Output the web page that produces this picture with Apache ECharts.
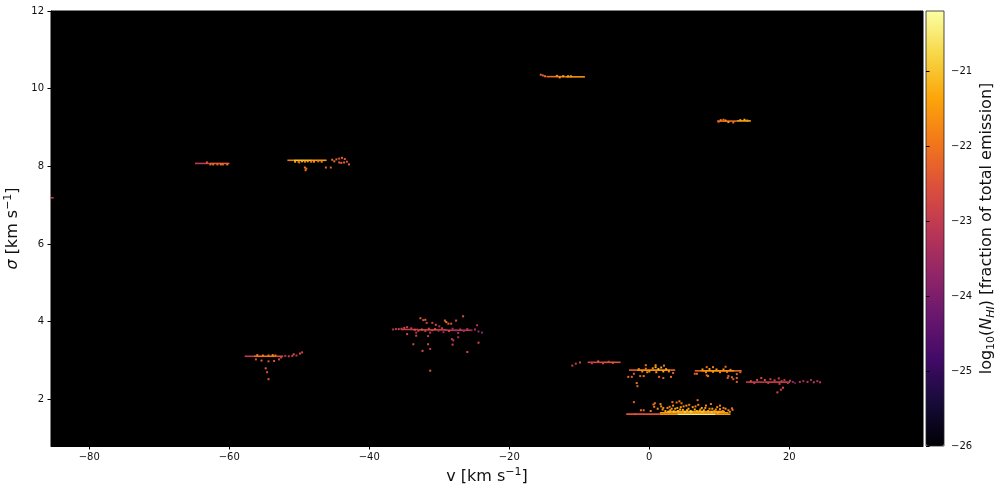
<!DOCTYPE html>
<html><head><meta charset="utf-8">
<script src="https://cdn.jsdelivr.net/npm/echarts@6/dist/echarts.min.js"></script>
<style>html,body{margin:0;padding:0;background:#fff}#c{width:1002px;height:494px}</style>
</head><body><div id="c"></div>
<script>
// axis ticks / ranges
const xTicks = [-80, -60, -40, -20, 0, 20];
const yTicks = [2, 4, 6, 8, 10, 12];
const cbTicks = [-26, -25, -24, -23, -22, -21];
const xRange = [-85.47, 39.1];
const yRange = [0.8, 12];
const cRange = [-26, -20.2];
const infernoColors = ['#000004','#160b39','#420a68','#6a176e','#932667','#bc3754','#dd513a','#f37819','#fca50a','#f6d746','#fcffa4'];

// streaks: [v_start, sigma, log10 N, v_end]
const streaks = [
  [-85.45, 7.19, -22.8, -85.1],
  [-64.9, 8.075, -23.0, -62.8], [-62.8, 8.075, -22.4, -60.0],
  [-51.7, 8.156, -21.9, -50.8], [-50.8, 8.156, -21.0, -48.2], [-48.2, 8.156, -21.5, -46.1],
  [-14.7, 10.31, -22.1, -12.0], [-12.0, 10.305, -21.6, -9.2],
  [9.7, 9.165, -22.1, 12.5], [12.5, 9.17, -21.3, 14.5],
  [-35.5, 3.80, -23.0, -33.0], [-33.0, 3.79, -22.8, -29.0], [-29.0, 3.78, -23.1, -25.5],
  [-57.8, 3.11, -23.0, -56.5], [-56.5, 3.11, -22.0, -53.3], [-53.3, 3.11, -22.6, -52.3],
  [-8.8, 2.955, -22.8, -6.5], [-6.5, 2.955, -22.5, -4.1],
  [-2.9, 2.754, -22.3, -1.8], [-1.8, 2.754, -21.7, 3.0], [3.0, 2.754, -22.1, 3.7],
  [6.5, 2.735, -22.2, 7.4], [7.4, 2.735, -21.6, 12.2], [12.2, 2.735, -22.2, 13.2],
  [13.8, 2.445, -23.0, 16.5], [16.5, 2.445, -22.8, 20.1],
  [-3.3, 1.62, -22.5, 1.5], [1.5, 1.62, -21.4, 4.0], [4.0, 1.62, -20.5, 9.5], [9.5, 1.62, -21.3, 11.6],
  [1.5, 1.655, -21.5, 11.3], [2.5, 1.69, -21.4, 10.8]
];

// individual cells: [v, sigma, log10 N]
const cellsHigh = [
  [-63.2,8.10,-22.3],[-62.7,8.05,-22.0],[-62.3,8.05,-22.1],[-61.7,8.05,-22.2],[-61.2,8.05,-22.0],[-60.9,8.05,-22.3],[-60.3,8.05,-22.0],
  [-50.6,8.12,-21.3],[-50.1,8.12,-21.6],[-49.6,8.13,-21.2],[-49.2,8.12,-21.8],[-48.8,8.13,-21.4],[-48.3,8.12,-21.9],[-47.9,8.12,-21.7],[-47.3,8.13,-22.0],[-46.8,8.12,-21.8],
  [-50.0,8.10,-22.3],[-49.2,7.97,-22.0],[-49.0,7.94,-22.2],[-49.1,7.90,-22.1],[-46.2,7.97,-22.3],[-45.5,7.97,-22.4],
  [-45.3,8.17,-22.2],[-44.7,8.18,-22.3],[-44.3,8.20,-22.5],[-43.9,8.22,-22.3],[-43.5,8.19,-22.4],[-44.0,8.09,-22.2],[-44.3,8.10,-22.4],[-43.6,8.10,-22.3],[-43.2,8.12,-22.5],[-42.9,8.05,-22.3],[-45.0,8.13,-22.1],
  [-15.5,10.36,-22.2],[-15.2,10.34,-22.3],[-14.9,10.32,-22.1],[-13.2,10.33,-21.5],[-12.3,10.32,-21.3],[-11.6,10.32,-21.4],[-11.2,10.32,-21.6],[-12.8,10.29,-21.4],
  [9.9,9.15,-22.2],[10.2,9.19,-21.8],[10.6,9.2,-22.0],[10.9,9.18,-21.6],[11.3,9.14,-21.5],[12.0,9.13,-22.0],[13.0,9.19,-21.4],[13.6,9.2,-21.2],[14.0,9.18,-21.5]
];
const cellsMid = [
  [-36.6,3.80,-23.2],[-36.2,3.81,-23.0],[-35.8,3.81,-22.8],[-35.4,3.82,-22.9],[-35.0,3.84,-22.7],[-34.6,3.86,-22.9],[-34.0,3.83,-23.0],[-33.5,3.79,-22.6],
  [-32.7,4.09,-22.4],[-32.3,4.04,-22.6],[-32.0,4.05,-22.3],[-31.8,3.97,-22.8],[-31.0,3.97,-22.9],[-30.5,3.92,-22.7],[-29.2,4.03,-22.2],[-29.0,3.99,-21.9],[-28.7,3.95,-22.3],[-28.3,3.95,-22.5],[-27.6,4.03,-22.6],[-26.6,4.14,-22.5],[-24.6,3.91,-23.2],[-30.0,3.88,-23.3],
  [-33.0,3.77,-22.7],[-32.5,3.80,-22.4],[-32.0,3.76,-23.0],[-31.5,3.82,-22.6],[-31.0,3.78,-22.9],[-30.6,3.81,-22.5],[-30.1,3.77,-23.4],[-29.6,3.83,-22.8],[-29.1,3.79,-23.1],[-28.6,3.76,-22.7],[-28.1,3.82,-23.3],[-27.6,3.78,-23.6],[-27.0,3.80,-23.0],[-26.5,3.76,-23.5],[-26.0,3.81,-23.2],[-25.4,3.78,-23.7],[-24.9,3.80,-23.3],[-24.4,3.75,-23.6],[-23.9,3.72,-23.8],[-33.3,3.72,-23.2],[-31.3,3.72,-23.0],[-29.4,3.73,-23.5],[-27.3,3.71,-23.4],
  [-34.6,3.68,-22.6],[-33.3,3.64,-22.8],[-31.6,3.63,-23.0],[-28.2,3.55,-22.9],[-28.0,3.52,-23.1],[-27.3,3.60,-23.4],[-33.7,3.42,-22.7],[-31.6,3.42,-22.6],[-32.4,3.25,-22.5],[-31.3,3.30,-23.0],[-28.1,3.41,-22.8],[-26.0,3.22,-22.7],[-24.4,3.46,-22.6],[-31.3,2.74,-22.4],
  [-56.0,3.14,-21.8],[-55.2,3.13,-21.9],[-54.4,3.13,-22.0],[-53.8,3.14,-21.7],[-53.4,3.13,-22.1],[-56.2,3.03,-22.5],[-55.4,3.00,-22.3],[-54.4,2.98,-22.6],[-53.6,2.99,-22.4],[-52.9,3.03,-22.7],[-54.8,2.80,-22.3],[-54.6,2.70,-22.5],[-54.4,2.52,-22.4],[-52.0,3.12,-23.2],[-51.5,3.11,-23.0],[-51.0,3.12,-22.9],[-50.4,3.13,-23.1],[-49.9,3.18,-22.6],[-49.6,3.21,-22.7],[-50.8,3.16,-22.5],[-52.6,3.08,-22.8],
  [-11.0,2.87,-22.9],[-10.5,2.92,-23.0],[-9.9,2.95,-22.8],[-7.3,2.98,-22.4],[-6.6,2.93,-22.6],[-5.8,2.97,-22.7],[-5.2,2.94,-22.5],[-8.2,2.93,-23.1]
];
const cellsLow = [
  [-1.5,2.78,-21.8],[-1.0,2.72,-21.6],[-0.5,2.79,-21.9],[0.0,2.72,-21.5],[0.5,2.80,-21.6],[0.9,2.83,-21.2],[1.3,2.78,-21.0],[1.7,2.82,-21.3],[2.0,2.72,-21.2],[2.4,2.78,-21.4],[2.8,2.72,-21.7],[1.0,2.70,-21.5],[-0.3,2.70,-21.8],[0.9,2.88,-21.7],[-0.5,2.88,-22.0],[2.1,2.87,-21.9],
  [-3.0,2.58,-22.1],[-2.5,2.58,-22.3],[-1.8,2.42,-22.0],[-1.7,2.34,-22.2],[-1.3,2.60,-22.3],[-0.8,2.60,-22.0],[1.4,2.58,-22.2],[2.0,2.55,-22.4],[3.1,2.58,-22.1],[-2.2,2.66,-22.4],[3.4,2.68,-22.3],
  [7.6,2.77,-21.5],[8.1,2.70,-21.7],[8.6,2.78,-21.3],[9.1,2.71,-21.6],[9.6,2.77,-21.4],[10.1,2.70,-21.8],[10.6,2.77,-21.5],[11.1,2.71,-21.9],[11.6,2.76,-21.7],[8.2,2.83,-22.0],[9.1,2.83,-21.9],[10.9,2.84,-22.1],
  [8.2,2.62,-22.2],[8.4,2.60,-22.0],[6.5,2.66,-22.3],[6.8,2.66,-22.1],[11.3,2.60,-22.3],[11.8,2.57,-22.2],[12.0,2.52,-22.4],[12.5,2.55,-22.3],[12.5,2.65,-22.2],[12.5,2.45,-22.4],[11.2,2.55,-22.5],[13.0,2.70,-22.3],
  [14.5,2.47,-22.6],[15.4,2.50,-22.8],[16.0,2.55,-22.7],[16.5,2.50,-22.5],[17.3,2.52,-22.9],[17.9,2.49,-22.7],[18.5,2.54,-22.8],[18.9,2.47,-23.0],[19.3,2.50,-23.2],[18.3,2.18,-22.6],[18.8,2.25,-22.8],[19.1,2.30,-22.7],[18.6,2.40,-22.9],[19.8,2.42,-23.3],[20.1,2.48,-23.0],[20.8,2.42,-24.3],[21.5,2.45,-23.1],[22.0,2.47,-23.4],[22.6,2.45,-23.2],[23.1,2.50,-23.5],[23.5,2.44,-23.0],[24.0,2.47,-23.3],[24.4,2.44,-23.1],[20.5,2.45,-23.6],[17.0,2.42,-23.0],[15.0,2.42,-22.9]
];
const cellsBottom = [
  [-2.2,1.93,-22.3],[-1.2,1.72,-22.1],[-0.8,1.72,-22.2],[0.6,1.87,-22.0],[0.7,1.81,-21.9],[0.8,1.90,-22.2],[1.6,1.88,-21.8],[1.7,1.82,-21.6],[1.9,1.74,-21.5],[2.3,1.70,-21.3],[2.6,1.78,-21.6],[3.0,1.72,-21.2],[3.3,1.93,-22.0],[3.4,1.84,-21.7],[3.7,1.76,-21.4],[3.9,1.92,-22.1],[4.1,1.70,-21.0],[4.3,1.95,-21.9],[4.5,1.80,-21.5],[4.6,1.90,-22.0],[4.8,1.73,-21.2],[5.1,1.68,-20.9],[5.3,1.84,-21.6],[5.6,1.76,-21.3],[5.9,1.70,-21.0],[6.2,1.80,-21.5],[6.5,1.74,-21.2],[6.9,1.98,-22.1],[7.0,1.86,-21.7],[7.2,1.70,-21.1],[7.5,1.78,-21.4],[7.8,1.72,-21.2],[8.1,1.84,-21.8],[8.4,1.70,-21.3],[8.8,1.88,-21.9],[9.0,1.76,-21.5],[9.3,1.70,-21.4],[9.7,1.80,-21.7],[10.1,1.84,-21.8],[10.1,1.75,-21.6],[10.5,1.70,-21.5],[10.9,1.76,-21.8],[11.3,1.72,-21.7],[11.8,1.77,-22.0],[11.9,1.73,-22.1],[2.8,1.68,-21.1],[3.5,1.69,-20.9],[6.0,1.68,-20.8],[7.6,1.68,-20.9],[8.9,1.68,-21.1],[10.0,1.68,-21.3],[-2.0,1.62,-22.6],[0.2,1.70,-21.9],[1.2,1.76,-21.7],[9.8,1.66,-21.2],
  [2.0,1.78,-21.8],[2.9,1.81,-21.9],[4.0,1.78,-21.6],[4.9,1.82,-21.7],[5.7,1.86,-21.9],[6.6,1.82,-21.8],[7.3,1.74,-21.5],[8.0,1.78,-21.6],[8.6,1.76,-21.7],[9.5,1.74,-21.6],[10.6,1.78,-21.9],[11.5,1.68,-21.6],[5.4,1.72,-21.1],[6.8,1.70,-21.2],[4.4,1.74,-21.3],[3.2,1.76,-21.5]
];

const cells = cellsHigh.concat(cellsMid, cellsLow, cellsBottom);
const fmtMinus = v => String(v).replace('-', '\u2212');
const font = 'DejaVu Sans';

const chart = echarts.init(document.getElementById('c'), null, {renderer: 'canvas'});
chart.setOption({
  animation: false,
  backgroundColor: '#fff',
  grid: [
    {left: 51, top: 11, width: 872, height: 435, show: true, backgroundColor: '#000', borderColor: '#000', borderWidth: 1, outerBoundsMode: 'none', containLabel: false},
    {left: 926, top: 11, width: 18, height: 435, show: true, backgroundColor: 'transparent', borderColor: '#222', borderWidth: 0.8, z: 10, outerBoundsMode: 'none', containLabel: false}
  ],
  xAxis: [
    {gridIndex: 0, type: 'value', min: xRange[0], max: xRange[1], splitLine: {show: false},
     axisLine: {show: true, onZero: false, lineStyle: {color: '#000'}},
     axisTick: {show: true, customValues: xTicks, length: 3.5, lineStyle: {color: '#000'}},
     axisLabel: {customValues: xTicks, formatter: fmtMinus, fontSize: 10, fontFamily: font, color: '#111', margin: 6},
     name: '{n|v [km s}{sup|\u22121}{n|]}', nameLocation: 'middle', nameGap: 21,
     nameTextStyle: {fontFamily: font, fontSize: 16, color: '#111',
       rich: {n: {fontFamily: font, fontSize: 16, lineHeight: 20, color: '#111'},
              sup: {fontFamily: font, fontSize: 11, lineHeight: 12, verticalAlign: 'top', color: '#111'}}}},
    {gridIndex: 1, type: 'value', min: 0, max: 1, show: false}
  ],
  yAxis: [
    {gridIndex: 0, type: 'value', min: yRange[0], max: yRange[1], splitLine: {show: false},
     axisLine: {show: true, onZero: false, lineStyle: {color: '#000'}},
     axisTick: {show: true, customValues: yTicks, length: 3.5, lineStyle: {color: '#000'}},
     axisLabel: {customValues: yTicks, fontSize: 10, fontFamily: font, color: '#111', margin: 7},
     name: '{i|\u03c3}{n| [km s}{sup|\u22121}{n|]}', nameLocation: 'middle', nameGap: 25, nameRotate: 90,
     nameTextStyle: {fontFamily: font, fontSize: 16, color: '#111',
       rich: {i: {fontFamily: font, fontStyle: 'italic', fontSize: 16, lineHeight: 20, color: '#111'},
              n: {fontFamily: font, fontSize: 16, lineHeight: 20, color: '#111'},
              sup: {fontFamily: font, fontSize: 11, lineHeight: 12, verticalAlign: 'top', color: '#111'}}}},
    {gridIndex: 1, type: 'value', position: 'right', min: cRange[0], max: cRange[1], splitLine: {show: false}, z: 10,
     axisLine: {show: false},
     axisTick: {show: true, customValues: cbTicks, length: 3.5, lineStyle: {color: '#000'}},
     axisLabel: {customValues: cbTicks, formatter: fmtMinus, fontSize: 10, fontFamily: font, color: '#111', margin: 7},
     name: '{n|log}{sub|10}{n|(}{i|N}{subi|HI}{n|) [fraction of total emission]}', nameLocation: 'middle', nameGap: 33, nameRotate: 90,
     nameTextStyle: {fontFamily: font, fontSize: 16, color: '#111',
       rich: {n: {fontFamily: font, fontSize: 16, lineHeight: 20, color: '#111'},
              i: {fontFamily: font, fontStyle: 'italic', fontSize: 16, lineHeight: 20, color: '#111'},
              sub: {fontFamily: font, fontSize: 11, lineHeight: 12, verticalAlign: 'bottom', color: '#111'},
              subi: {fontFamily: font, fontStyle: 'italic', fontSize: 11, lineHeight: 12, verticalAlign: 'bottom', color: '#111'}}}}
  ],
  visualMap: {
    type: 'continuous', min: cRange[0], max: cRange[1], dimension: 2, seriesIndex: [0, 1],
    inRange: {color: infernoColors}, calculable: false, hoverLink: false,
    orient: 'vertical', left: 926, top: 11, itemWidth: 18, itemHeight: 435, padding: 0, text: null, z: 4
  },
  series: [
    {type: 'custom', xAxisIndex: 0, yAxisIndex: 0, data: streaks, encode: {x: [0, 3], y: 1},
     renderItem: function (params, api) {
       const p1 = api.coord([api.value(0), api.value(1)]);
       const p2 = api.coord([api.value(3), api.value(1)]);
       return {type: 'rect', shape: {x: p1[0], y: p1[1] - 0.8, width: p2[0] - p1[0], height: 1.6},
               style: {fill: api.visual('color')}};
     }},
    {type: 'scatter', xAxisIndex: 0, yAxisIndex: 0, data: cells, symbol: 'rect', symbolSize: 2,
     itemStyle: {opacity: 1}}
  ]
});
</script>
</body></html>
